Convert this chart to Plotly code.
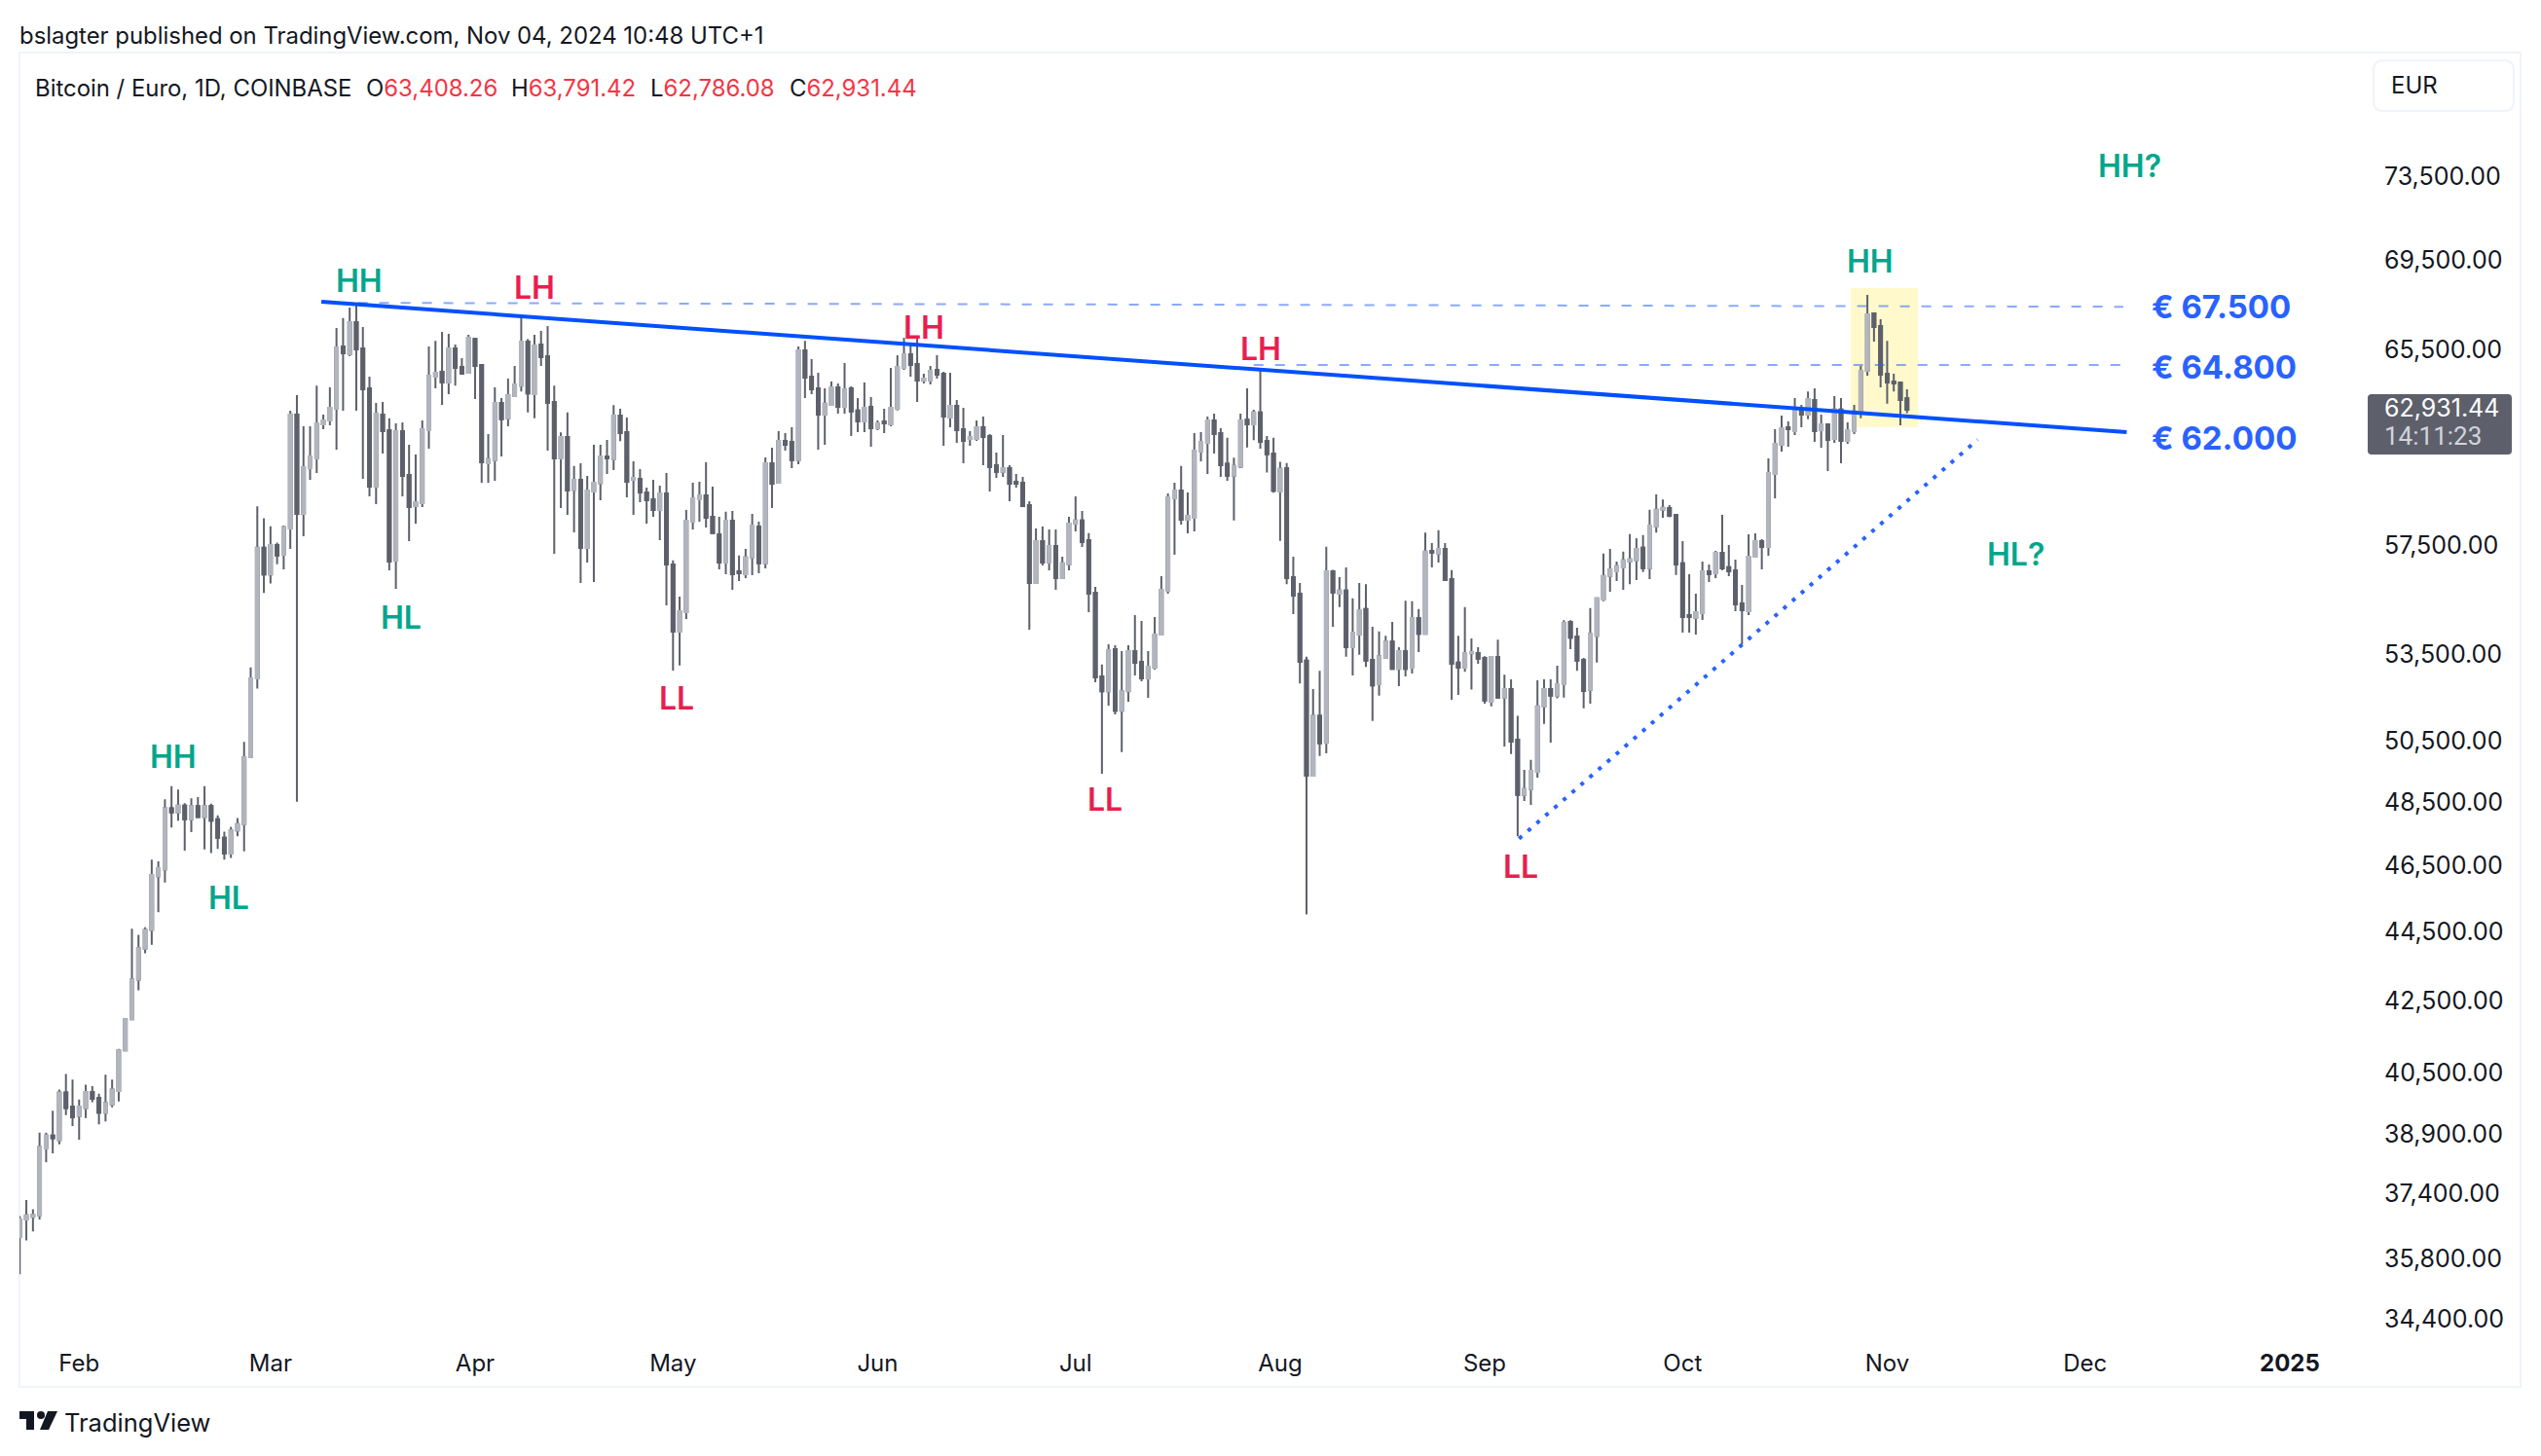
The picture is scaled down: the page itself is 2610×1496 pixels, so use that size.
import math

import pandas as pd
import plotly.graph_objects as go

#%% daily BTC/EUR candles
opens = [
    36325,36750,36815,36850,38525,38860,38735,39985,39610,39370,
    39575,40000,39840,39450,39670,40025,41120,41980,43100,43990,
    44540,46160,46370,48290,48160,48380,47940,48360,48010,48360,
    47940,47360,46860,47590,47790,49960,52650,57420,56410,57520,
    57155,58157,62730,58727,60540,60930,62325,62485,62975,65630,
    65295,66700,65545,63830,59792,62730,62080,56930,62040,60265,
    59030,59145,62080,64330,64540,64080,65545,64750,64495,65965,
    64830,60735,60855,63218,62570,63500,63950,65840,63580,65715,
    65210,63260,60930,61800,59670,60065,57410,59605,59935,61010,
    60895,62690,62000,60065,60105,59565,59300,58880,59525,56787,
    54305,55015,58420,59300,59450,58610,57930,56860,58460,56525,
    56415,57045,58230,56825,60735,59950,61640,61600,60855,65460,
    64330,63830,62730,63135,63870,63055,63830,62895,62445,63055,
    62160,62445,62325,62975,64705,65295,64870,64165,64165,64620,
    64455,62610,63095,62120,61720,61720,62200,61840,60655,60385,
    60540,59990,59950,59065,56090,57670,56860,57485,56270,56790,
    58350,58465,57710,55730,52715,52200,53680,51530,52200,53610,
    53230,52645,53025,54200,55800,59330,59640,58500,58575,61205,
    61560,62485,61960,60710,60230,60590,62510,62320,62820,61640,
    61125,59605,60540,56305,55690,53270,49350,51350,50445,56525,
    55690,55810,53750,54200,55130,53295,52445,53365,53950,52980,
    53610,53020,54800,54230,57300,57200,57370,56230,53200,53020,
    53530,53540,53365,51835,53400,51980,52270,50545,48725,48915,
    49475,51680,52270,52045,52440,54660,54130,53295,52245,54160,
    55480,56350,56525,56670,56905,56935,57415,56645,58240,58885,
    58955,58690,56825,54905,54810,54980,56530,56455,57225,56680,
    56565,55335,55050,57080,57670,57450,60305,61480,62200,62040,
    62895,62730,63340,62080,62325,61720,62935,61640,62040,62815,
    64580,67090,66530,64455,64120,64080,63408.26,
]
highs = [
    36835,37225,37000,38930,38930,39500,40060,40480,40330,39800,
    40190,40150,39950,40460,40330,41160,41980,44580,44400,44620,
    46670,46620,48580,49010,48900,48460,48610,48650,49010,48440,
    48070,47550,47700,47980,50470,53030,59020,58550,58240,57610,
    58270,62893,63540,62240,62240,63950,62730,63870,66440,66880,
    67350,67470,66480,64330,63218,63260,62570,62365,62405,61480,
    61090,62485,65630,65880,66270,66180,65715,65125,66140,66010,
    64830,61920,63870,63420,64250,64790,67020,65965,66140,66310,
    66530,63950,61995,62815,60620,60735,60225,61480,61480,61680,
    63120,62975,62610,60815,60500,59755,60065,59835,60345,56935,
    55585,58880,59950,59990,60775,59795,58610,58805,58840,57120,
    57375,58725,58420,60970,61365,62040,61960,62200,65630,65880,
    65085,64500,63830,64120,64040,64915,63910,63420,64080,63460,
    62485,62975,64705,65250,66010,65715,66010,64455,64790,65250,
    64540,64500,63340,63015,62040,62485,62650,61920,61165,61880,
    60655,60305,60185,59220,58160,58230,58120,58120,57080,58610,
    59410,58840,57980,55945,53130,53850,53815,53610,53815,54905,
    54695,53610,54835,56345,59525,59950,60620,59565,61960,62000,
    62650,62770,62160,61770,60960,62770,63830,62930,64695,61845,
    61770,60790,60745,57080,56090,53405,52270,52910,57460,56585,
    56305,56670,55520,56090,56045,54480,54315,54160,54660,53750,
    55435,55410,55130,58000,57600,58090,57600,56570,54160,55200,
    54060,53750,53430,53400,54020,52775,52615,51350,49540,49870,
    52575,52615,52615,53090,54715,54715,54450,53365,55160,55550,
    57200,57370,56890,57270,57940,57780,57900,58885,59485,59290,
    59070,58690,57670,56415,55695,56895,56787,57300,58690,57525,
    56970,56015,57930,57970,57745,60930,62120,62690,62445,63420,
    63135,63700,63830,62730,62325,63500,63420,62405,63135,64790,
    67915,67090,66830,65880,64455,64120,63791.42,
]
lows = [
    35440,36240,36460,36750,38170,38400,38630,39390,39105,38750,
    39315,39725,39150,39220,39595,39745,41120,41980,42790,43860,
    44110,45070,45970,47680,47900,46950,47530,47990,46990,46880,
    47010,46670,46730,47400,46930,49960,52290,55720,56070,56790,
    56600,57375,48500,57858,60067,60345,62120,62285,61285,62893,
    65210,62893,60110,59410,59105,61130,56565,55875,59410,57670,
    58350,58990,61325,63830,63135,63580,63950,64455,64495,63380,
    59950,59950,60030,61010,62240,63500,63700,62815,62570,64790,
    61245,57190,58955,58690,58005,56090,56860,56125,59260,60305,
    60460,61630,59370,58690,59185,58350,58610,57710,55265,52920,
    53095,54765,58120,58420,58195,57980,56600,56415,55835,56160,
    56270,56380,56455,56640,58955,59910,61245,60540,60695,63420,
    63580,61285,61480,63135,62770,62770,61840,62000,62000,61400,
    62080,61960,62240,62895,64623,64330,63260,64040,63995,64250,
    61440,62200,61560,60735,61440,61640,60655,59600,60145,60185,
    59220,59755,59030,54375,56090,56750,56565,55835,56270,56565,
    58045,57450,55015,52510,49410,51700,51400,50130,51835,52745,
    52541,51970,52955,54200,55695,57155,58310,57970,58045,60815,
    60305,61130,60185,60030,58465,60540,61375,61670,61325,60355,
    59560,57680,56045,54940,52470,45010,49350,50000,50090,54480,
    55200,53405,52750,53475,53050,51180,52045,53340,52980,52375,
    52710,52820,53570,54230,56670,56860,56200,51900,52070,52880,
    52260,53160,51770,51680,51980,50320,50065,47400,48525,48400,
    49285,51075,50445,51955,51980,53680,52910,51610,51770,53200,
    55410,55760,56160,55835,56045,56200,56500,56235,58000,58570,
    58590,56385,54267,54267,54200,54730,56125,56270,56565,56345,
    55050,53850,54905,57080,56600,57117,59335,61205,61400,61880,
    62200,62530,61600,61365,60420,61560,60735,61520,61920,62570,
    64370,65840,63870,63180,63700,62285,62786.08,
]
closes = [
    36750,36850,36865,38560,38860,38790,39985,39575,39330,39610,
    40000,39820,39450,39705,40060,41120,41980,43100,44010,44540,
    46200,46410,48290,48160,48380,47940,48360,48010,48360,47900,
    47360,46860,47590,47790,49960,52650,57420,56410,57520,57120,
    58207,62730,58727,60578,61010,62365,62485,63015,65590,65335,
    66700,65500,63786,59792,62770,62040,56895,62040,60225,58990,
    59185,62120,64370,64495,64080,65545,64705,64455,66010,64790,
    60775,60895,63218,62530,63540,64000,65840,63620,65670,65170,
    63218,60930,61800,59640,60065,57410,59640,59950,61010,60930,
    62690,61960,59990,60145,59565,59260,58880,59525,56787,54305,
    55050,58460,59335,59450,58575,57980,56860,58460,56415,56455,
    57045,58270,56825,60735,59910,61640,61480,60855,65460,64290,
    63786,62730,63180,63870,63055,63786,62855,62445,63015,62160,
    62365,62365,63015,64750,65295,64830,64165,64245,64580,64415,
    62650,63095,62080,61640,61800,62200,61800,60578,60385,60540,
    59910,59910,59030,56090,57670,56860,57485,56270,56825,58350,
    58465,57630,55695,52680,52200,53645,51530,52200,53610,53195,
    52645,53060,54200,55835,59370,59640,58500,58650,61245,61600,
    62485,61920,60655,60230,60620,62480,62320,62820,61605,61095,
    59635,60510,56275,55620,53230,49350,51350,50420,56525,55735,
    55810,53750,54270,55085,53270,52400,53430,53950,52980,53610,
    52980,54800,54230,57270,57230,57370,56200,53160,53020,53540,
    53570,53340,51875,53400,51980,52270,50480,48725,48915,49510,
    51680,52270,52045,52440,54620,54090,53270,52205,54230,55520,
    56350,56600,56715,56935,56980,57370,56645,58270,58885,58960,
    58650,56787,54835,54835,55015,56530,56415,57225,56640,56530,
    55300,55085,57080,57670,57450,60345,61520,62160,62120,62935,
    62730,63380,62040,62325,61680,62935,61640,62080,62855,64580,
    67050,66480,64415,64080,64040,63340,62931.44,
]
dates = pd.date_range("2024-01-23", periods=len(opens), freq="D")

price_ticks = [73500, 69500, 65500, 57500, 53500, 50500, 48500, 46500, 44500,
               42500, 40500, 38900, 37400, 35800, 34400]
month_ticks = ["2024-02-01", "2024-03-01", "2024-04-01", "2024-05-01", "2024-06-01", "2024-07-01",
               "2024-08-01", "2024-09-01", "2024-10-01", "2024-11-01", "2024-12-01", "2025-01-01"]
month_labels = ["Feb", "Mar", "Apr", "May", "Jun", "Jul", "Aug", "Sep", "Oct", "Nov", "Dec", "<b>2025</b>"]

#%% drawings on the chart
trend_dates = ["2024-03-08 17:00", "2024-12-07 07:00"]
trend_prices = [67607, 61997]
support_dates = ["2024-09-06 05:00", "2024-11-14 17:00"]
support_prices = [47328, 61690]
level_675_dates = ["2024-03-11", "2024-12-06 19:00"]
level_675_prices = [67563, 67387]
level_648_dates = ["2024-07-28", "2024-12-06 12:00"]
level_648_prices = [64830, 64825]

swing_labels = ["HH", "LH", "LH", "LH", "HH", "HH?", "HL", "HH", "HL", "LL", "LL", "LL", "HL?"]
swing_dates = ["2024-03-14 12:00", "2024-04-10", "2024-06-08", "2024-07-29", "2024-10-29 12:00", "2024-12-07 18:00",
               "2024-03-20 18:00", "2024-02-15 06:00", "2024-02-23 18:00", "2024-05-01 12:00", "2024-07-05 12:00",
               "2024-09-06 12:00", "2024-11-20 12:00"]
swing_prices = [68575, 68266, 66480, 65542, 69467, 74010, 54831, 49988, 45517, 51969, 48559, 46469, 57184]

level_labels = ["€ 67.500", "€ 64.800", "€ 62.000"]
level_prices = [67387, 64741, 61757]

TEAL = "#00a68c"
RED = "#e91e4f"
BLUE = "#0050ff"
LABEL_BLUE = "#2962ff"
DARK = "#5d606b"
LIGHT = "#b2b5be"
TEXT = "#131722"
FRAME = "#f0f3fa"
VALUE_RED = "#f23645"
FONT = "Inter"

W, H = 2610, 1496
LEFT, RIGHT, TOP, BOTTOM = 20, 2440, 54, 1375


def px(x):
    return (x - LEFT) / (RIGHT - LEFT)


def py(y):
    return (BOTTOM - y) / (BOTTOM - TOP)


def round_rect(x0, y0, x1, y1, r):
    return (f"M {px(x0 + r)} {py(y0)} L {px(x1 - r)} {py(y0)} Q {px(x1)} {py(y0)} {px(x1)} {py(y0 + r)} "
            f"L {px(x1)} {py(y1 - r)} Q {px(x1)} {py(y1)} {px(x1 - r)} {py(y1)} "
            f"L {px(x0 + r)} {py(y1)} Q {px(x0)} {py(y1)} {px(x0)} {py(y1 - r)} "
            f"L {px(x0)} {py(y0 + r)} Q {px(x0)} {py(y0)} {px(x0 + r)} {py(y0)} Z")


def polygon(points):
    return "M " + " L ".join(f"{px(a)} {py(b)}" for a, b in points) + " Z"


fig = go.Figure()

# first trace gives the dark wicks, second paints the bodies over it
dark_style = dict(line=dict(color=DARK, width=2), fillcolor=DARK)
fig.add_trace(go.Candlestick(x=dates, open=opens, high=highs, low=lows, close=closes,
                             increasing=dark_style, decreasing=dark_style, whiskerwidth=0))
body_high = [max(a, b) for a, b in zip(opens, closes)]
body_low = [min(a, b) for a, b in zip(opens, closes)]
fig.add_trace(go.Candlestick(x=dates, open=opens, high=body_high, low=body_low, close=closes,
                             increasing=dict(line=dict(color=LIGHT, width=2), fillcolor=LIGHT),
                             decreasing=dict(line=dict(color=DARK, width=2), fillcolor=DARK),
                             whiskerwidth=0))

dash_style = dict(color="rgba(41,98,255,0.55)", width=2, dash="10px,12px")
fig.add_trace(go.Scatter(x=level_675_dates, y=level_675_prices, mode="lines", line=dash_style))
fig.add_trace(go.Scatter(x=level_648_dates, y=level_648_prices, mode="lines", line=dash_style))
fig.add_trace(go.Scatter(x=trend_dates, y=trend_prices, mode="lines", line=dict(color=BLUE, width=4)))
fig.add_trace(go.Scatter(x=support_dates, y=support_prices, mode="lines",
                         line=dict(color=LABEL_BLUE, width=4, dash="4px,8px")))

# annotations on a log axis take log10 of the price
for text, day, price in zip(swing_labels, swing_dates, swing_prices):
    color = RED if text.startswith("L") else TEAL
    fig.add_annotation(x=day, y=math.log10(price), text=text, showarrow=False,
                       font=dict(family=FONT, size=32, color=color, weight=600))

for text, price in zip(level_labels, level_prices):
    fig.add_annotation(x="2024-12-10 19:00", y=math.log10(price), text=text, showarrow=False, xanchor="left",
                       font=dict(family=FONT, size=33, color=LABEL_BLUE, weight=700))

shapes = [
    dict(type="rect", xref="x", yref="y", x0="2024-10-26 12:00", x1="2024-11-05 17:00", y0=62210, y1=68221,
         fillcolor="#fff9cc", line_width=0, layer="below"),
    dict(type="rect", xref="paper", yref="paper", x0=px(20), x1=px(2589), y0=py(54), y1=py(1425),
         line=dict(color=FRAME, width=2), layer="below"),
    dict(type="path", xref="paper", yref="paper", path=round_rect(2438, 62, 2582, 114, 10),
         line=dict(color=FRAME, width=2)),
    dict(type="path", xref="paper", yref="paper", path=round_rect(2432, 405, 2580, 467, 4),
         fillcolor=DARK, line_width=0),
    # logo
    dict(type="path", xref="paper", yref="paper", fillcolor=TEXT, line_width=0,
         path=polygon([(20, 1450), (35, 1450), (35, 1469), (27, 1469), (27, 1458), (20, 1458)])),
    dict(type="circle", xref="paper", yref="paper", x0=px(38), x1=px(46), y0=py(1450), y1=py(1458),
         fillcolor=TEXT, line_width=0),
    dict(type="path", xref="paper", yref="paper", fillcolor=TEXT, line_width=0,
         path=polygon([(49, 1450), (59, 1450), (50, 1469), (41, 1469)])),
]


def page_text(x, y, text, size=24, color=TEXT, family=FONT):
    fig.add_annotation(xref="paper", yref="paper", x=px(x), y=py(y), text=text, showarrow=False,
                       xanchor="left", yanchor="middle", font=dict(family=family, size=size, color=color))


page_text(18, 36, "bslagter published on TradingView.com, Nov 04, 2024 10:48 UTC+1", 23.9)
page_text(34, 90, "Bitcoin / Euro, 1D, COINBASE", 23.9)
for x, name, value in [(374, "O", "63,408.26"), (523, "H", "63,791.42"), (666, "L", "62,786.08"), (809, "C", "62,931.44")]:
    page_text(x, 90, f'{name}<span style="color:{VALUE_RED}">{value}</span>', 23.9)
page_text(2454, 88, "EUR", 24)
page_text(2447, 419, "62,931.44", 25, "#ffffff")
page_text(2447, 448, "14:11:23", 26, "#d1d4dc", "Roboto")
page_text(64, 1461, "TradingView", 25.5)

fig.update_layout(
    width=W, height=H,
    margin=dict(l=LEFT, r=W - RIGHT, t=TOP, b=H - BOTTOM, pad=0),
    paper_bgcolor="white", plot_bgcolor="white",
    showlegend=False, boxgap=0.4, shapes=shapes,
    xaxis=dict(type="date", range=["2024-01-22 23:00", "2025-01-14"], rangeslider=dict(visible=False),
               showgrid=False, zeroline=False, showline=False, tickmode="array",
               tickvals=month_ticks, ticktext=month_labels, ticks="outside", ticklen=4,
               tickcolor="rgba(0,0,0,0)", tickfont=dict(family=FONT, size=24, color=TEXT)),
    yaxis=dict(type="log", range=[4.5310, 4.9019], side="right", showgrid=False, zeroline=False,
               showline=False, tickmode="array", tickvals=price_ticks,
               ticktext=[f"{v:,.2f}" for v in price_ticks], ticks="outside", ticklen=3,
               tickcolor="rgba(0,0,0,0)", tickfont=dict(family=FONT, size=25, color=TEXT)),
)

fig.write_html("out.html", config=dict(displayModeBar=False), post_script="document.body.style.margin='0';")
